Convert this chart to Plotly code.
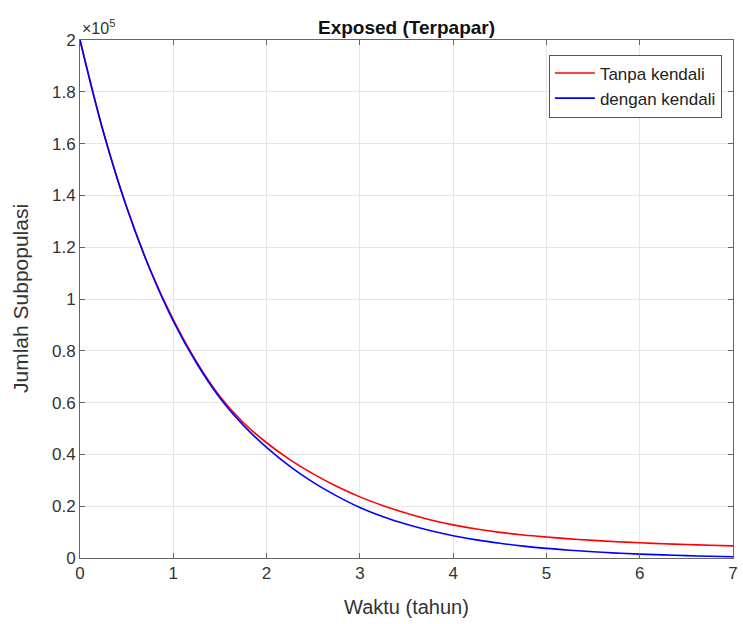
import plotly.graph_objects as go

t = [0, 0.25, 0.5, 0.75, 1, 1.25, 1.5, 1.75, 2, 2.25, 2.5, 2.75, 3, 3.25, 3.5, 3.75, 4,
     4.25, 4.5, 4.75, 5, 5.25, 5.5, 5.75, 6, 6.25, 6.5, 6.75, 7]
tanpa_kendali = [200000, 164600, 135500, 111600, 92000, 75700, 62400, 52300, 44500, 38000, 32500,
                 27700, 23600, 20200, 17300, 14800, 12800, 11200, 9900, 8900, 8100, 7400, 6800,
                 6300, 5900, 5500, 5200, 4900, 4700]
dengan_kendali = [200000, 164600, 135400, 111400, 91500, 75200, 61800, 51300, 42700, 35400, 29200,
                  24000, 19500, 15900, 13000, 10600, 8600, 7000, 5700, 4600, 3700, 3000, 2400,
                  1900, 1500, 1200, 900, 700, 500]

y_ticks = [0, 20000, 40000, 60000, 80000, 100000, 120000, 140000, 160000, 180000, 200000]
y_ticktext = ["0", "0.2", "0.4", "0.6", "0.8", "1", "1.2", "1.4", "1.6", "1.8", "2"]
x_ticks = [0, 1, 2, 3, 4, 5, 6, 7]

FONT = "Liberation Sans, Arial, sans-serif"

fig = go.Figure()
fig.add_trace(go.Scatter(x=t, y=tanpa_kendali, mode="lines", name="Tanpa kendali",
                         line=dict(color="#ff0000", width=1.6, shape="spline")))
fig.add_trace(go.Scatter(x=t, y=dengan_kendali, mode="lines", name="dengan kendali",
                         line=dict(color="#0000ff", width=1.6, shape="spline")))

axis_common = dict(showline=True, linecolor="#666666", linewidth=1, mirror="allticks",
                   ticks="inside", ticklen=5, tickcolor="#666666",
                   showgrid=True, gridcolor="#e6e6e6", gridwidth=1, zeroline=False,
                   tickfont=dict(family=FONT, size=17, color="#333333"))

fig.update_xaxes(range=[0, 7], tickvals=x_ticks, **axis_common)
fig.update_yaxes(range=[0, 200000], tickvals=y_ticks, ticktext=y_ticktext, **axis_common)

fig.update_layout(
    width=743, height=624,
    margin=dict(l=80, r=5, t=40, b=66),
    paper_bgcolor="white", plot_bgcolor="white",
    legend=dict(x=0.983, y=0.972, xanchor="right", yanchor="top",
                bgcolor="white", bordercolor="#555555", borderwidth=1,
                font=dict(family=FONT, size=17, color="#222222"),
                tracegroupgap=0, itemwidth=40),
    showlegend=True,
)
# Title
fig.add_annotation(text="<b>Exposed (Terpapar)</b>", xref="paper", yref="paper", x=0.5, y=1,
                   yshift=13, xanchor="center", yanchor="middle", showarrow=False,
                   font=dict(family=FONT, size=19, color="#111111"))
# Axis titles
fig.add_annotation(text="Waktu (tahun)", xref="paper", yref="paper", x=0.5, y=0,
                   yshift=-49, xanchor="center", yanchor="middle", showarrow=False,
                   font=dict(family=FONT, size=20, color="#333333"))
fig.add_annotation(text="Jumlah Subpopulasi", xref="paper", yref="paper", x=0, y=0.5,
                   xshift=-60, xanchor="center", yanchor="middle", showarrow=False, textangle=-90,
                   font=dict(family=FONT, size=21, color="#333333"))
# Exponent
fig.add_annotation(text="×10<sup>5</sup>", xref="paper", yref="paper", x=0, y=1.0,
                   xanchor="left", yanchor="bottom", yshift=1, showarrow=False,
                   font=dict(family=FONT, size=16, color="#333333"))

fig.write_html("out.html")
